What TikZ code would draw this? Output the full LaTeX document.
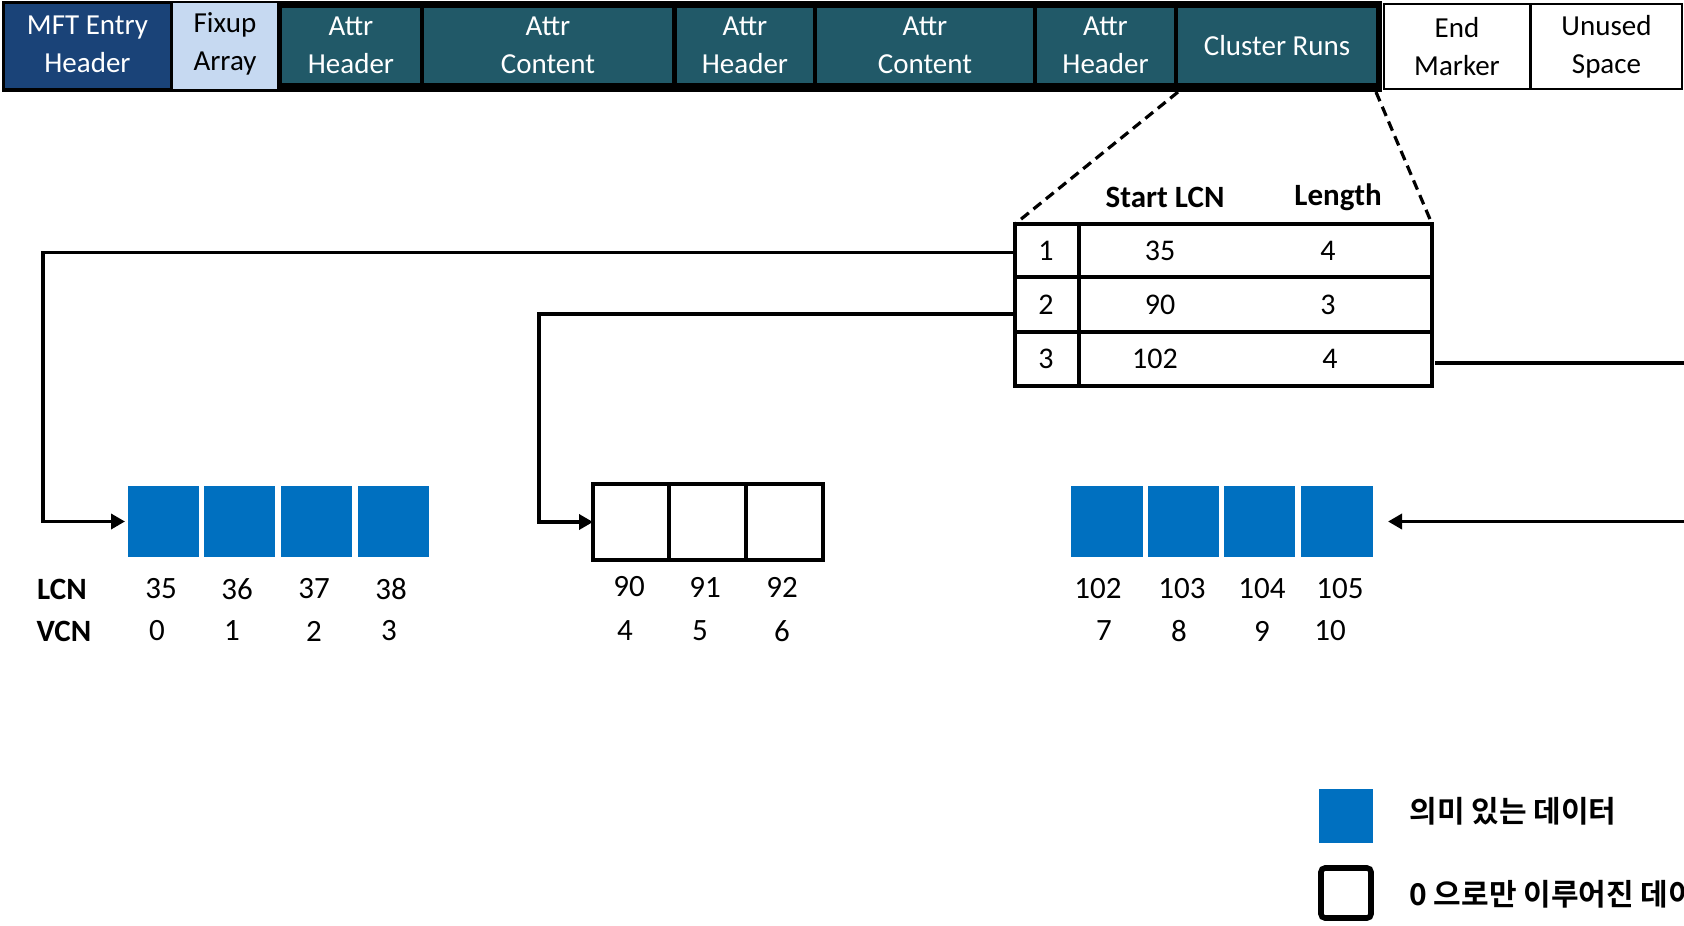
\documentclass[tikz,border=0pt]{standalone}
\usepackage{fontspec}
\setmainfont{Carlito}
\newfontfamily\kr{Noto Sans CJK KR}[BoldFont={Noto Sans CJK KR Bold}]
\usetikzlibrary{fit,arrows.meta}
\definecolor{tealbar}{HTML}{215968}
\definecolor{mftblue}{HTML}{1A4378}
\definecolor{fixupblue}{HTML}{C6D9F1}
\definecolor{datablue}{HTML}{0070C0}
\begin{document}
\begin{tikzpicture}[x=0.5pt,y=-0.5pt,
  barbox/.style={inner sep=0pt, outer sep=0pt},
  tealbox/.style={barbox, fill=tealbar},
  whitebox/.style={barbox, fill=white, draw=black, line width=1pt},
  bartext/.style={inner sep=0pt, align=center, font=\fontsize{14.5}{19}\selectfont},
  wtext/.style={bartext, text=white},
  ktext/.style={bartext, text=black},
  datab/.style={inner sep=0pt, outer sep=0pt, fill=datablue},
  grp/.style={inner sep=0pt, outer sep=0pt},
  rowbox/.style={inner sep=0pt, outer sep=0pt, draw=black, line width=1.8pt},
  conn/.style={line width=1.8pt},
  arr/.style={conn, -{Triangle[length=7pt,width=7.5pt]}},
  dashln/.style={line width=1.6pt, dash pattern=on 5pt off 3pt},
  cell/.style={inner sep=0pt, font=\fontsize{15}{18}\selectfont},
  hdr/.style={inner sep=0pt, font=\fontsize{15.5}{18}\selectfont\bfseries},
  num/.style={inner sep=0pt, font=\fontsize{15.5}{18}\selectfont},
  lgd/.style={inner sep=0pt, anchor=west, font=\kr\fontsize{15}{18}\selectfont\bfseries}
]
\useasboundingbox (0,0) rectangle (1684,925);
\clip (0,0) rectangle (1684,925);

% ---- top bar ----
\node[fill=black, inner sep=0pt, outer sep=0pt, fit={(2,1) (1382,92)}] (bar) {};
\node[barbox, fill=mftblue, fit={(5,4) (170,88)}] (mft) {};
\node[barbox, fill=fixupblue, fit={(173,3) (277,89)}] (fix) {};
\node[tealbox, fit={(282,8) (420,83)}] (ah1) {};
\node[tealbox, fit={(424,8) (672,83)}] (ac1) {};
\node[tealbox, fit={(677,8) (813,83)}] (ah2) {};
\node[tealbox, fit={(817,8) (1033,83)}] (ac2) {};
\node[tealbox, fit={(1037,8) (1174,83)}] (ah3) {};
\node[tealbox, fit={(1178,8) (1376,83)}] (cr) {};
\node[whitebox, fit={(1384,4) (1530,89)}] (em) {};
\node[whitebox, fit={(1531,4) (1682,89)}] (us) {};

\node[wtext] (mftT) at ([yshift=1pt]mft.center) {MFT Entry\\Header};
\node[ktext] (fixT) at ([yshift=1pt]fix.center) {Fixup\\Array};
\node[wtext] (ah1T) at (ah1.center) {Attr\\Header};
\node[wtext] (ac1T) at (ac1.center) {Attr\\Content};
\node[wtext] (ah2T) at (ah2.center) {Attr\\Header};
\node[wtext] (ac2T) at (ac2.center) {Attr\\Content};
\node[wtext] (ah3T) at (ah3.center) {Attr\\Header};
\node[wtext] (crT) at (cr.center) {Cluster Runs};
\node[ktext] (emT) at (em.center) {End\\Marker};
\node[ktext] (usT) at (us.center) {Unused\\Space};

% ---- run table ----
\node[rowbox, fit={(1015,224) (1432,277)}] (r1) {};
\node[rowbox, fit={(1015,277) (1432,332)}] (r2) {};
\node[rowbox, fit={(1015,332) (1432,386)}] (r3) {};
\draw[line width=1.8pt] (1079,224) -- (1079,386);

\draw[dashln] (cr.south west |- bar.south) -- (r1.north west);
\draw[dashln] (cr.south east |- bar.south) -- (r1.north east);

\node[hdr] (hs) at (1165,197) {Start LCN};
\node[hdr] (hl) at (1338,197) {Length};
\node[cell] (t11) at (1046,251) {1};
\node[cell] (t12) at (1160,251) {35};
\node[cell] (t13) at (1328,251) {4};
\node[cell] (t21) at (1046,305) {2};
\node[cell] (t22) at (1160,305) {90};
\node[cell] (t23) at (1328,305) {3};
\node[cell] (t31) at (1046,359) {3};
\node[cell] (t32) at (1155,359) {102};
\node[cell] (t33) at (1330,359) {4};

% ---- cluster groups ----
\node[datab, fit={(128,486) (199,557)}] (b1) {};
\node[datab, fit={(204,486) (275,557)}] (b2) {};
\node[datab, fit={(281,486) (352,557)}] (b3) {};
\node[datab, fit={(358,486) (429,557)}] (b4) {};

\node[grp, draw=black, line width=2.2pt, fit={(593,484) (823,560)}] (z) {};
\draw[line width=2.2pt] (669,484) -- (669,560);
\draw[line width=2.2pt] (746,484) -- (746,560);

\node[datab, fit={(1071,486) (1143,557)}] (c1) {};
\node[datab, fit={(1148,486) (1219,557)}] (c2) {};
\node[datab, fit={(1224,486) (1295,557)}] (c3) {};
\node[datab, fit={(1301,486) (1373,557)}] (c4) {};
\node[grp, fit={(1071,486) (1373,557)}] (g3) {};

% ---- connectors ----
\coordinate (k1) at (43,0);
\coordinate (k2) at (539,0);
\coordinate (k3) at (1740,0);
\draw[arr, shorten >=1.5pt] ([yshift=-1pt]r1.west) -| (k1 |- b1.west) -- (b1.west);
\draw[arr] ([yshift=-4.75pt]r2.west) -| (k2 |- z.west) -- (z.west);
\draw[arr, shorten >=7.5pt] ([xshift=1.5pt,yshift=-2pt]r3.east) -| (k3 |- g3.east) -- (g3.east);

% ---- labels ----
\node[hdr] (lcn) at (62,589) {LCN};
\node[hdr] (vcn) at (64,631) {VCN};
\node[num] (l35) at (161,589) {35};
\node[num] (l36) at (237,589) {36};
\node[num] (l37) at (314,589) {37};
\node[num] (l38) at (391,589) {38};
\node[num] (v0) at (157,631) {0};
\node[num] (v1) at (232,631) {1};
\node[num] (v2) at (314,631) {2};
\node[num] (v3) at (389,631) {3};
\node[num] (l90) at (629,587) {90};
\node[num] (l91) at (705,587) {91};
\node[num] (l92) at (782,587) {92};
\node[num] (v4) at (625,631) {4};
\node[num] (v5) at (700,631) {5};
\node[num] (v6) at (782,631) {6};
\node[num] (l102) at (1098,589) {102};
\node[num] (l103) at (1182,589) {103};
\node[num] (l104) at (1262,589) {104};
\node[num] (l105) at (1340,589) {105};
\node[num] (v7) at (1104,631) {7};
\node[num] (v8) at (1179,631) {8};
\node[num] (v9) at (1262,631) {9};
\node[num] (v10) at (1330,631) {10};

% ---- legend ----
\node[datab, fit={(1319,789) (1373,843)}] (lg1) {};
\node[grp, draw=black, line width=2.8pt, rounded corners=2pt, fit={(1321,868) (1371,918)}] (lg2) {};
\node[lgd] (lt1) at (1409,811) {의미 있는 데이터};
\node[lgd] (lt2) at (1409,894) {0 으로만 이루어진 데이터};
\end{tikzpicture}
\end{document}
